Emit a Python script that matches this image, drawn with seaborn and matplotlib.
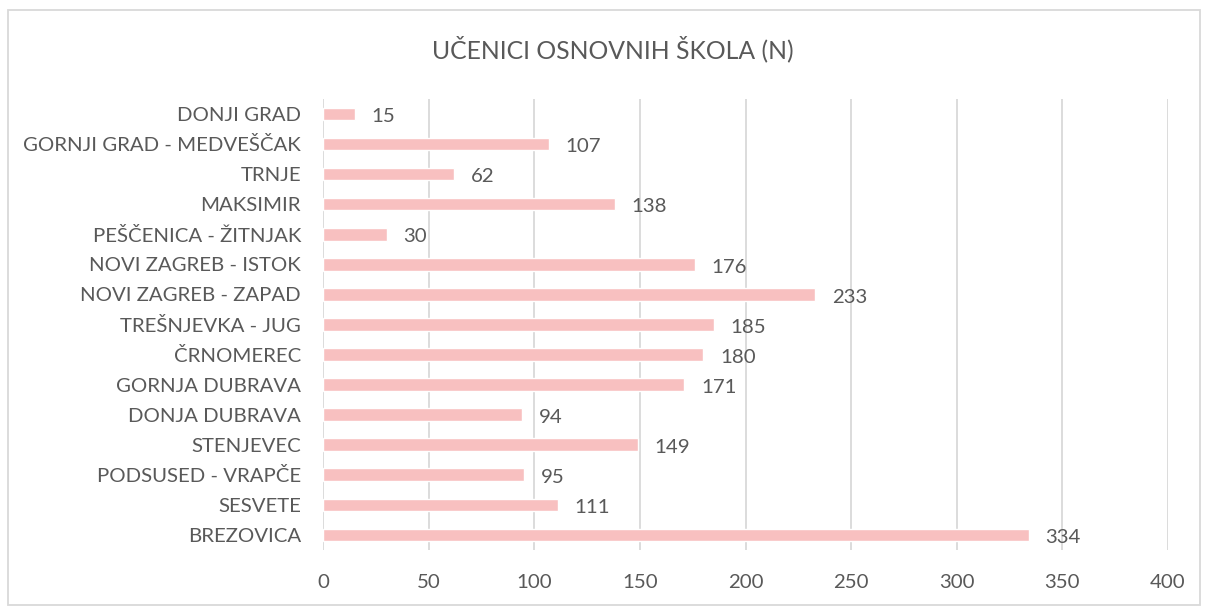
import matplotlib
matplotlib.use("Agg")
from matplotlib import pyplot as plt
import seaborn as sns
import pandas as pd

# Podaci
districts = [
    "DONJI GRAD", "GORNJI GRAD - MEDVEŠČAK", "TRNJE", "MAKSIMIR",
    "PEŠČENICA - ŽITNJAK", "NOVI ZAGREB - ISTOK", "NOVI ZAGREB - ZAPAD",
    "TREŠNJEVKA - JUG", "ČRNOMEREC", "GORNJA DUBRAVA", "DONJA DUBRAVA",
    "STENJEVEC", "PODSUSED - VRAPČE", "SESVETE", "BREZOVICA",
]
students = [15, 107, 62, 138, 30, 176, 233, 185, 180, 171, 94, 149, 95, 111, 334]
x_ticks = [0, 50, 100, 150, 200, 250, 300, 350, 400]

df = pd.DataFrame({"district": districts, "students": students})

sns.set_style("white")
plt.rcParams["font.family"] = ["Lato", "DejaVu Sans"]
text_col = "#595959"
grid_col = "#d9d9d9"
fs = 14.7

fig = plt.figure(figsize=(12.06, 6.08), dpi=100)
ax = fig.add_axes([0.268, 0.0954, 0.7005, 0.742])

sns.barplot(data=df, x="students", y="district", color="#f8c0c0",
            saturation=1, width=0.42, orient="h", ax=ax, zorder=2)

ax.set_xlim(0, 400)
ax.set_xticks(x_ticks)
ax.set_xticklabels([str(t) for t in x_ticks], color=text_col, fontsize=fs)
ax.tick_params(axis="y", labelsize=fs, labelcolor=text_col, length=0, pad=16)
ax.tick_params(axis="x", length=0, pad=17)
ax.set_xlabel("")
ax.set_ylabel("")
ax.grid(axis="x", color=grid_col, linewidth=1.3, zorder=0)
ax.set_axisbelow(True)
for s in ax.spines.values():
    s.set_visible(False)

for i, v in enumerate(students):
    ax.annotate(str(v), xy=(v, i), xytext=(12, -2), textcoords="offset points",
                va="center", ha="left", fontsize=fs, color=text_col)

fig.text(0.508, 0.92, "UČENICI OSNOVNIH ŠKOLA (N)", ha="center", va="center",
         fontsize=17.8, color=text_col)

# okvir grafikona
border = plt.Rectangle((0.007, 0.005), 0.988, 0.978, transform=fig.transFigure,
                       fill=False, edgecolor=grid_col, linewidth=1.3)
fig.patches.append(border)

fig.savefig("out.png", dpi=100)
